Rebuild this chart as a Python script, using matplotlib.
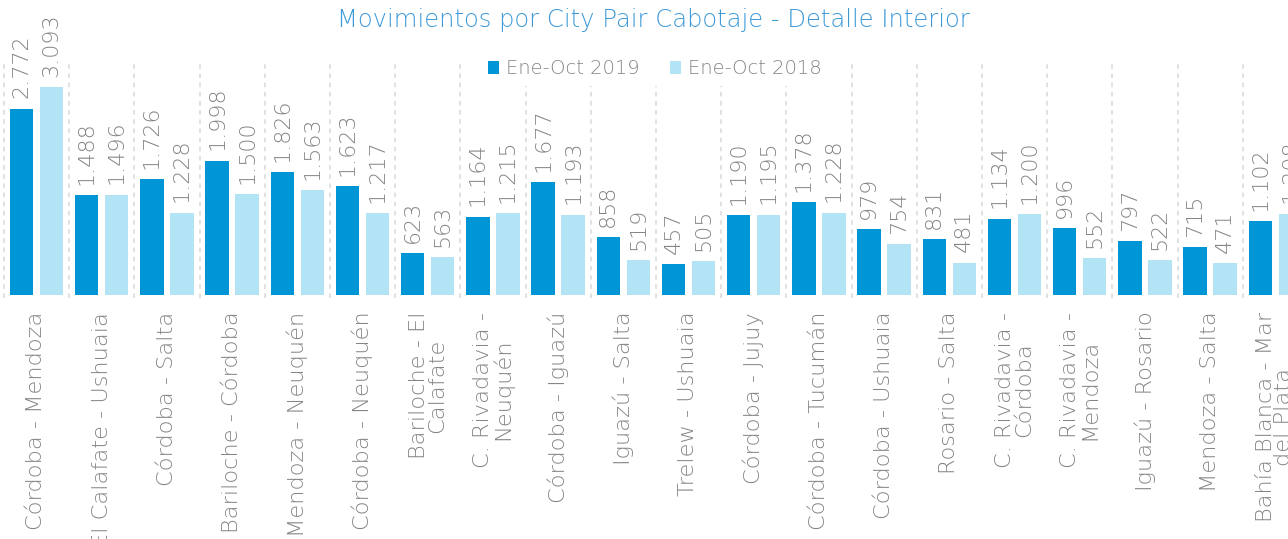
import matplotlib
matplotlib.use("Agg")
import matplotlib.pyplot as plt
from matplotlib.patches import Patch
import numpy as np

plt.rcParams['font.family'] = ['DejaVu Sans']

title = "Movimientos por City Pair Cabotaje - Detalle Interior"
series_names = ["Ene-Oct 2019", "Ene-Oct 2018"]
categories = [
    "Córdoba - Mendoza", "El Calafate - Ushuaia", "Córdoba - Salta",
    "Bariloche - Córdoba", "Mendoza - Neuquén", "Córdoba - Neuquén",
    "Bariloche - El\nCalafate", "C. Rivadavia -\nNeuquén", "Córdoba - Iguazú",
    "Iguazú - Salta", "Trelew - Ushuaia", "Córdoba - Jujuy",
    "Córdoba - Tucumán", "Córdoba - Ushuaia", "Rosario - Salta",
    "C. Rivadavia -\nCórdoba", "C. Rivadavia -\nMendoza", "Iguazú - Rosario",
    "Mendoza - Salta", "Bahía Blanca - Mar\ndel Plata",
]
v2019 = [2772, 1488, 1726, 1998, 1826, 1623, 623, 1164, 1677, 858,
         457, 1190, 1378, 979, 831, 1134, 996, 797, 715, 1102]
v2018 = [3093, 1496, 1228, 1500, 1563, 1217, 563, 1215, 1193, 519,
         505, 1195, 1228, 754, 481, 1200, 552, 522, 471, 1208]

C_DARK = "#0096d6"
C_LIGHT = "#b3e4f5"
C_TEXT = "#858585"
C_TITLE = "#3d9ad8"
C_SEP = "#d8d8d8"
WT = "light"

W, H = 1288, 539
fig = plt.figure(figsize=(W / 100, H / 100), dpi=100)
left_px, base_px, top_px = 3.9, 295, 60
group_px = 65.2
n = len(categories)
ax = fig.add_axes([left_px / W, (H - base_px) / H,
                   n * group_px / W, (base_px - top_px) / H])

x = np.arange(n)
bw = 0.36
off = 0.23
b1 = ax.bar(x - off, v2019, bw, color=C_DARK, zorder=3)
b2 = ax.bar(x + off, v2018, bw, color=C_LIGHT, zorder=3)

ax.set_xlim(-0.5, n - 0.5)
ax.set_ylim(0, 3500)

# dashed separators between groups
ax.vlines(np.arange(n + 1) - 0.5, -40, 3500, colors=C_SEP, linestyles=(0, (3, 3)),
          linewidth=1.1, zorder=1, clip_on=False)

def fmt(v):
    return f"{v:,}".replace(",", ".")

for bars, vals in ((b1, v2019), (b2, v2018)):
    for rect, v in zip(bars, vals):
        ax.annotate(fmt(v), (rect.get_x() + rect.get_width() / 2, rect.get_height()),
                    xytext=(0, 7.5), textcoords="offset points", rotation=90,
                    ha="center", va="bottom", fontsize=16, color=C_TEXT,
                    fontweight=WT, annotation_clip=False, clip_on=False)

ax.set_xticks(x)
ax.set_xticklabels(categories, rotation=90, fontsize=16.2, color=C_TEXT,
                   fontweight=WT, multialignment="center", linespacing=0.9)
ax.tick_params(axis="x", length=0, pad=12)
ax.set_yticks([])
for s in ax.spines.values():
    s.set_visible(False)

fig.text(653 / W, 1 - 20 / H, title, ha="center", va="center", fontsize=17.5,
         color=C_TITLE, fontweight=WT)

handles = [Patch(facecolor=C_DARK, edgecolor="none"), Patch(facecolor=C_LIGHT, edgecolor="none")]
leg = fig.legend(handles, series_names, loc="center", bbox_to_anchor=(655 / W, 1 - 69 / H),
                 ncol=2, fontsize=14, frameon=True, facecolor="white", edgecolor="none",
                 framealpha=1, handlelength=0.55, handleheight=0.65, handletextpad=0.35,
                 columnspacing=1.6, borderpad=0.4)
for t in leg.get_texts():
    t.set_color(C_TEXT)
    t.set_fontweight(WT)
leg.set_zorder(10)

fig.savefig("out.png", dpi=100)
